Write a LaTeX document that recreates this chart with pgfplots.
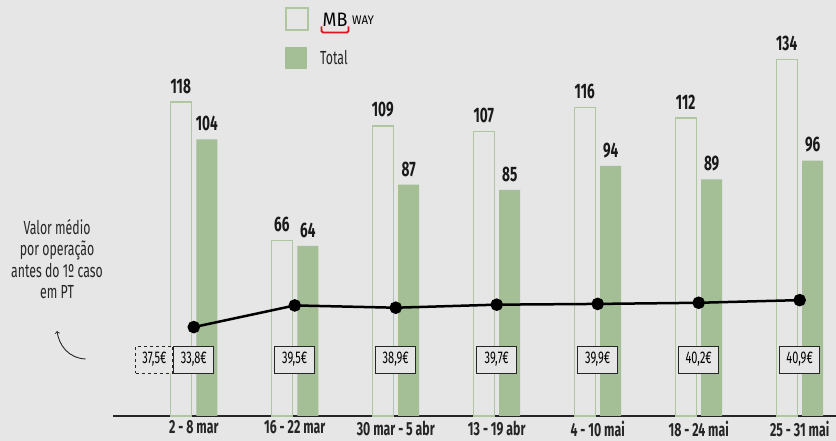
\documentclass[border=0pt]{standalone}
\usepackage{fontspec}
\setmainfont{Fira Sans}[FakeStretch=0.65]
\newfontfamily\logofont{Fira Sans}[FakeStretch=0.92]
\usepackage{pgfplots}
\pgfplotsset{compat=1.18}
\definecolor{bg}{HTML}{E6E6E6}
\definecolor{gfill}{HTML}{A4BE96}
\definecolor{gline}{HTML}{AEC7A1}
\definecolor{mbred}{HTML}{E4131B}
\begin{document}
\begin{tikzpicture}[x=1bp,y=1bp]
\fill[bg] (0,0) rectangle (836,441);
\begin{axis}[
  at={(113bp,25bp)}, anchor=south west,
  scale only axis, width=723bp, height=416bp,
  xmin=-0.8, xmax=6.36, ymin=0, ymax=156.4,
  axis x line=bottom, axis y line=none,
  axis line style={-, line width=1.3bp, black!85},
  xtick={0,...,6},
  xticklabels={2 - 8 mar, 16 - 22 mar, 30 mar - 5 abr, 13 - 19 abr, 4 - 10 mai, 18 - 24 mai, 25 - 31 mai},
  major tick length=0pt,
  xticklabel style={font=\bfseries\fontsize{19}{19}\selectfont, text=black!85, inner sep=0pt, anchor=north, yshift=-4.5bp},
  ytick=\empty,
  ybar, bar width=21bp,
  /pgf/number format/assume math mode=true,
  nodes near coords,
  every node near coord/.append style={font=\bfseries\fontsize{21}{21}\selectfont, text=black!90, inner sep=0pt, yshift=8bp},
  clip=false,
]
\addplot[fill=bg, draw=gline, line width=1.3bp, bar shift=-13bp]
  coordinates {(0,118)(1,66)(2,109)(3,107)(4,116)(5,112)(6,134)};
\addplot[fill=gfill, draw=none, bar shift=13bp]
  coordinates {(0,104)(1,64)(2,87)(3,85)(4,94)(5,89)(6,96)};
\tikzset{box/.style={draw=black!85, fill=bg, line width=1bp, minimum width=40bp, minimum height=27bp, inner sep=0pt, font=\fontsize{17}{17}\selectfont}}
\node[box, dashed, minimum width=37bp] at (axis cs:-0.39,21.2) {37,5€};
\node[box] at (axis cs:0,21.2) {33,8€};
\node[box] at (axis cs:1,21.2) {39,5€};
\node[box] at (axis cs:2,21.2) {38,9€};
\node[box] at (axis cs:3,21.2) {39,7€};
\node[box] at (axis cs:4,21.2) {39,9€};
\node[box] at (axis cs:5,21.2) {40,2€};
\node[box] at (axis cs:6,21.2) {40,9€};
\end{axis}
\begin{axis}[
  at={(113bp,25bp)}, anchor=south west,
  scale only axis, width=723bp, height=416bp,
  xmin=-0.8, xmax=6.36, ymin=10.4, ymax=119.9,
  axis lines=none, ticks=none, clip=false,
]
\addplot[black, line width=2.5bp, mark=*, mark size=5bp, mark options={solid, fill=black}]
  coordinates {(0,33.8)(1,39.5)(2,38.9)(3,39.7)(4,39.9)(5,40.2)(6,40.9)};
\end{axis}
% legend
\draw[gline, line width=1.3bp, fill=bg] (286,411) rectangle (308,433);
\fill[gfill] (285,372) rectangle (307,394);
\node[anchor=base west, font=\fontsize{19}{19}\selectfont, text=black!85, inner sep=0] at (320,376) {Total};
% MB WAY logo
\node[anchor=base west, font=\logofont\fontsize{19.5}{19.5}\selectfont, inner sep=0, text=black] at (322.5,414) {MB};
\node[anchor=base west, font=\logofont\fontsize{12.5}{12.5}\selectfont, inner sep=0, text=black] at (352,416) {WAY};
\draw[mbred, line width=1.8bp, rounded corners=1.5bp] (321.5,414.5) -- (321.5,408.5) -- (348.5,408.5) -- (348.5,414.5);
% left annotation
\node[align=center, font=\fontsize{19}{21.5}\selectfont, text=black!85] at (57,182) {Valor médio\\por operação\\antes do 1º caso\\em PT};
\draw[->, >=to, line width=0.9bp, black!85] (85.5,82) .. controls (68,83) and (59,96) .. (57,110);
\pgfresetboundingbox
\useasboundingbox (0,0) rectangle (836,441);
\end{tikzpicture}
\end{document}
